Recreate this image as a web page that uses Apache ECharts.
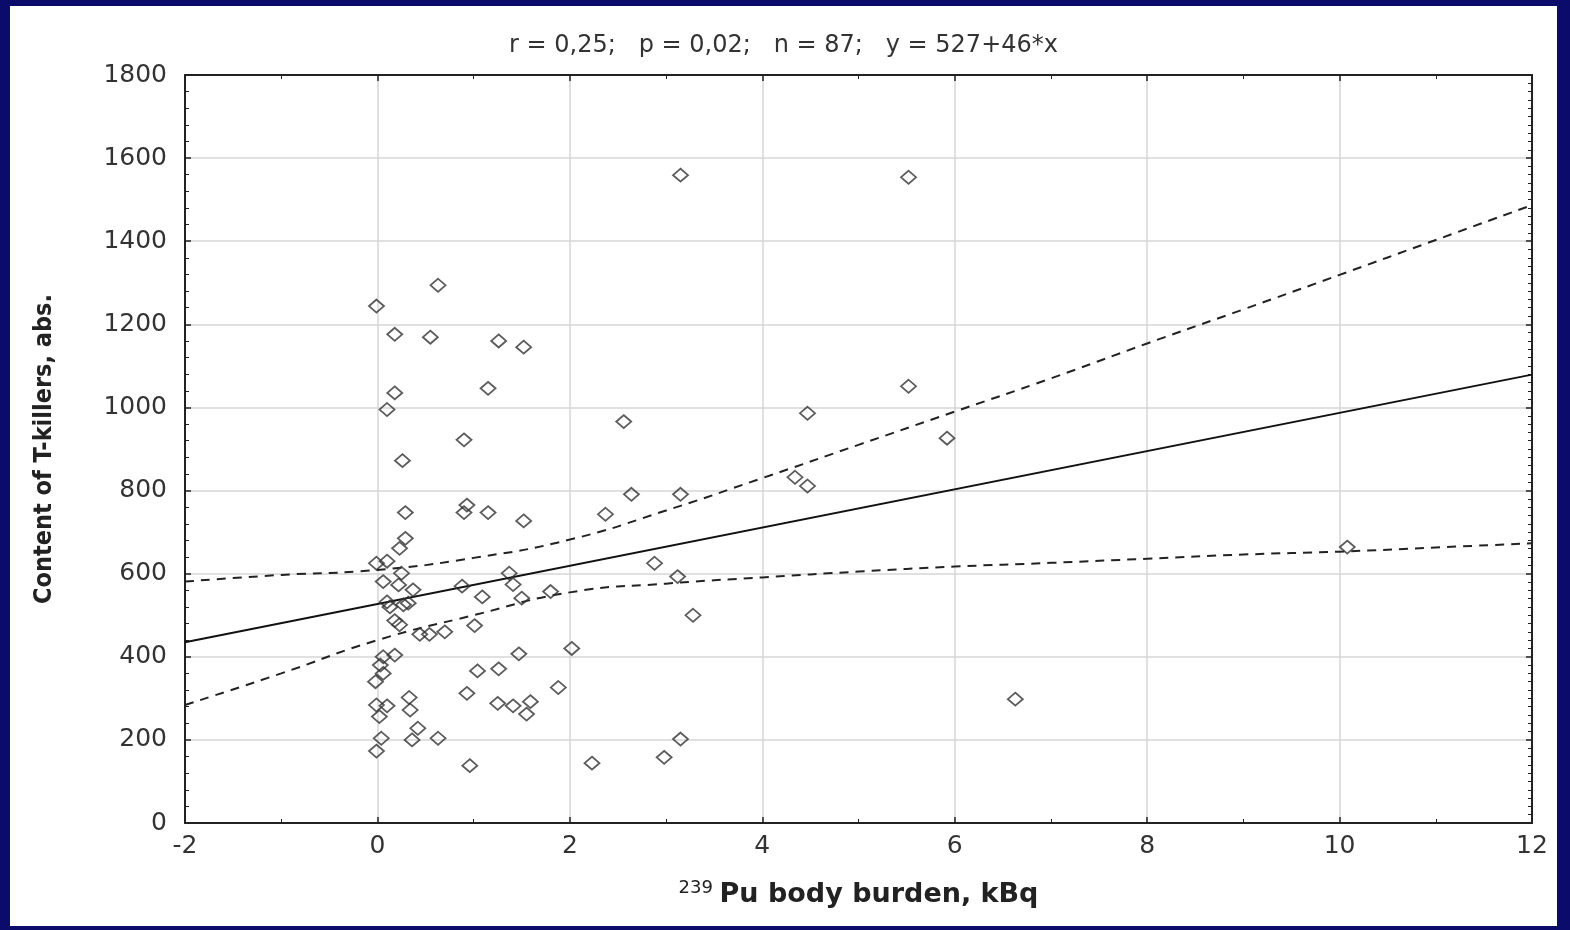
<!DOCTYPE html>
<html>
<head>
<meta charset="utf-8">
<title>T-killers vs Pu body burden</title>
<script src="https://cdn.jsdelivr.net/npm/echarts@6/dist/echarts.min.js"></script>
<style>
    html, body { margin: 0; padding: 0; width: 1570px; height: 930px; background: #0b0b6c; overflow: hidden; }
    #main { position: absolute; left: 10px; top: 6px; width: 1547px; height: 920px; background: #fff; }
</style>
</head>
<body>
<div id="main"></div>
<script>
    // 239Pu body burden, kBq (x) and T-killers content (y)
    var puBurden = [
        3.15, 5.52, 0.63, -0.01, 0.18, 0.55, 1.26, 1.52, 0.18, 0.10,
        1.15, 5.52, 4.47, 2.56, 5.92, 0.90, 0.26, 4.34, 4.47, 2.64,
        3.15, 2.37, 0.29, 0.93, 0.90, 1.15, 1.52, 0.29, 0.23, -0.01,
        0.10, 0.25, 0.06, 0.22, 0.37, 0.88, 1.37, 1.41, 1.09, 1.50,
        1.80, 0.10, 0.13, 0.27, 0.32, 0.18, 0.23, 0.44, 0.54, 0.70,
        1.01, 2.02, 0.06, 0.18, 0.03, 1.47, 0.06, -0.02, 1.04, 1.26,
        1.88, 0.93, 0.33, 0.34, -0.01, 0.10, 0.02, 1.25, 1.41, 1.59,
        1.55, 0.42, 0.04, 0.36, 0.63, -0.01, 0.96, 2.23, 2.88, 3.12,
        3.28, 3.15, 2.98, 10.08, 6.63
    ];
    var tKillers = [
        1559, 1554, 1294, 1244, 1176, 1169, 1160, 1145, 1035, 995,
        1046, 1051, 986, 966, 926, 922, 872, 832, 811, 791,
        791, 743, 747, 765, 747, 747, 727, 685, 661, 625,
        630, 601, 581, 573, 561, 570, 601, 574, 544, 541,
        557, 532, 520, 525, 529, 487, 477, 454, 454, 460,
        475, 420, 400, 404, 380, 407, 360, 340, 366, 371,
        326, 312, 302, 272, 284, 282, 256, 288, 282, 292,
        262, 228, 204, 200, 204, 173, 138, 144, 625, 593,
        500, 202, 158, 664, 298
    ];

    // regression line y = 527 + 46*x, ends read at the plot edges
    var fitX = [-2, 12];
    var fitY = [435, 1079];

    // 95% confidence band, read at each integer x
    var bandX = [-2, -1, 0, 1, 2, 3, 4, 5, 6, 7, 8, 9, 10, 11, 12];
    var bandUpper = [581, 597, 609, 638, 682, 752, 830, 910, 990, 1070, 1154, 1236, 1319, 1403, 1487];
    var bandLower = [284, 360, 440, 500, 555, 576, 591, 605, 617, 626, 636, 646, 653, 663, 673];

    var titleText = 'r = 0,25;   p = 0,02;   n = 87;   y = 527+46*x';

    function zip(xs, ys) {
        var out = [];
        for (var i = 0; i < xs.length; i++) out.push([xs[i], ys[i]]);
        return out;
    }

    //浅拷贝合并
    function $extend(a, b) {
        var o = {}, k;
        for (k in a) o[k] = a[k];
        for (k in b) o[k] = b[k];
        return o;
    }

    var tickFont = { fontFamily: 'DejaVu Sans', fontSize: 25, color: '#333', formatter: function (v) { return String(v); } };
    var boxLine = { show: true, onZero: false, lineStyle: { color: '#222', width: 2 } };
    var grayGrid = { show: true, lineStyle: { color: '#d6d6d6', width: 1.5 } };
    var inTick = { inside: true, length: 6, lineStyle: { color: '#222', width: 1.5 } };

    var chart = echarts.init(document.getElementById('main'));
    chart.setOption({
        animation: false,
        title: {
            text: titleText,
            left: 'center',
            top: 23,
            textStyle: { fontFamily: 'DejaVu Sans', fontSize: 24, fontWeight: 'normal', color: '#333' }
        },
        grid: { left: 175, right: 25, top: 69, bottom: 103, show: false },
        xAxis: [{
            type: 'value',
            min: -2, max: 12, interval: 2,
            axisLine: boxLine,
            axisTick: inTick,
            minorTick: { show: true, splitNumber: 2, length: 4, lineStyle: { color: '#222' } },
            splitLine: grayGrid,
            axisLabel: $extend(tickFont, { margin: 11 }),
            name: '{sup|239}  {b|Pu body burden, kBq}',
            nameLocation: 'middle',
            nameGap: 56,
            nameTextStyle: {
                rich: {
                    sup: { fontFamily: 'DejaVu Sans', fontSize: 18, color: '#222', verticalAlign: 'top', padding: [0, 0, 14, 0] },
                    b: { fontFamily: 'DejaVu Sans', fontSize: 27, fontWeight: 'bold', color: '#222' }
                }
            }
        }, {
            type: 'value',
            position: 'top',
            min: -2, max: 12, interval: 2,
            axisLine: boxLine,
            axisTick: inTick,
            minorTick: { show: true, splitNumber: 2, length: 4, lineStyle: { color: '#222' } },
            splitLine: { show: false },
            axisLabel: { show: false }
        }],
        yAxis: [{
            type: 'value',
            min: 0, max: 1800, interval: 200,
            axisLine: boxLine,
            axisTick: inTick,
            minorTick: { show: true, splitNumber: 5, length: 4, lineStyle: { color: '#222' } },
            splitLine: grayGrid,
            axisLabel: $extend(tickFont, { margin: 18 }),
            name: 'Content of T-killers, abs.',
            nameLocation: 'middle',
            nameGap: 128,
            nameTextStyle: {
                fontFamily: 'Liberation Sans Narrow, DejaVu Sans Condensed, sans-serif',
                fontSize: 25, fontWeight: 'bold', color: '#222'
            }
        }, {
            type: 'value',
            position: 'right',
            min: 0, max: 1800, interval: 200,
            axisLine: boxLine,
            axisTick: inTick,
            minorTick: { show: true, splitNumber: 10, length: 4, lineStyle: { color: '#222' } },
            splitLine: { show: false },
            axisLabel: { show: false }
        }],
        series: [{
            type: 'line',
            data: zip(bandX, bandUpper),
            smooth: true,
            symbol: 'none',
            lineStyle: { color: '#222', width: 2, type: [9, 7] },
            z: 3
        }, {
            type: 'line',
            data: zip(bandX, bandLower),
            smooth: true,
            symbol: 'none',
            lineStyle: { color: '#222', width: 2, type: [9, 7] },
            z: 3
        }, {
            type: 'line',
            data: zip(fitX, fitY),
            symbol: 'none',
            lineStyle: { color: '#111', width: 2 },
            z: 3
        }, {
            type: 'scatter',
            data: zip(puBurden, tKillers),
            symbol: 'diamond',
            symbolSize: [15, 13],
            itemStyle: { color: 'rgba(255,255,255,0)', borderColor: '#333', borderWidth: 1.8 },
            z: 4
        }]
    });
</script>
</body>
</html>
